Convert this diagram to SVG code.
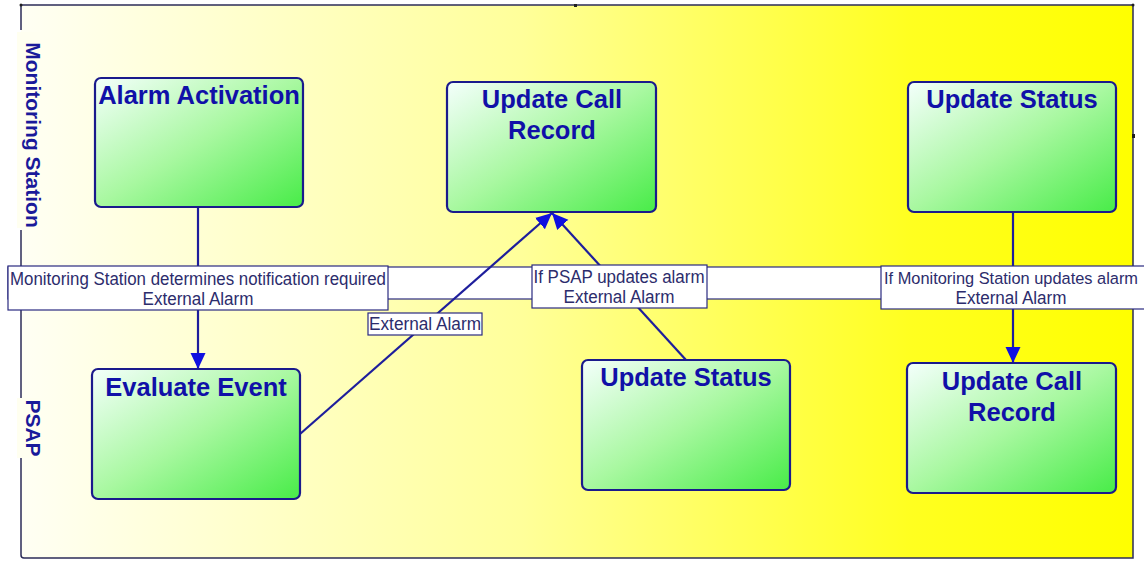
<svg xmlns="http://www.w3.org/2000/svg" width="1144" height="561" viewBox="0 0 1144 561">
  <defs>
    <linearGradient id="laneBg" x1="0" y1="0" x2="1" y2="0">
      <stop offset="0" stop-color="#fffff4"/>
      <stop offset="0.45" stop-color="#ffff9a"/>
      <stop offset="0.8" stop-color="#ffff20"/>
      <stop offset="1" stop-color="#ffff00"/>
    </linearGradient>
    <linearGradient id="nodeFill" x1="0" y1="0" x2="1" y2="1">
      <stop offset="0" stop-color="#f4fffc"/>
      <stop offset="0.5" stop-color="#a8f8a0"/>
      <stop offset="1" stop-color="#48ec48"/>
    </linearGradient>
    <marker id="arrow" markerUnits="userSpaceOnUse" markerWidth="18" markerHeight="18" refX="16" refY="7.5" orient="auto">
      <path d="M0,0 L16,7.5 L0,15 Z" fill="#1010e0"/>
    </marker>
    <style>
      .frame { fill: none; stroke: #2c2c58; stroke-width: 1.5; }
      .node rect { fill: url(#nodeFill); stroke: #1a1a8c; stroke-width: 2.2; }
      .node text { font-family: "Liberation Sans", Arial, sans-serif; font-weight: bold; font-size: 25.5px; fill: #1010a8; text-anchor: middle; }
      .lane { font-family: "Liberation Sans", Arial, sans-serif; font-weight: bold; font-size: 21px; fill: #1a1a9a; text-anchor: middle; }
      .lane-bg { fill: #fffff0; }
      .conn { fill: none; stroke: #1e1e9c; stroke-width: 2.2; marker-end: url(#arrow); }
      .lbl rect { fill: #ffffff; stroke: #2a2a80; stroke-width: 1.2; }
      .lbl text { font-family: "Liberation Sans", Arial, sans-serif; font-size: 17.5px; fill: #2c2c6c; text-anchor: middle; }
      .lbl text.fit { font-size: 16.8px; }
    </style>
  </defs>

  <!-- swimlane pool -->
  <g id="pool">
    <rect x="21" y="5" width="1112" height="553" rx="3" fill="url(#laneBg)"/>
    <path class="frame" d="M21,30 V5 H1133 V558 H24 Q21,558 21,555 V458"/>
    <path class="frame" d="M21,230 V400"/>
    <circle cx="21" cy="5" r="1.5" fill="#202020"/>
    <circle cx="1133" cy="5" r="1.5" fill="#202020"/>
    <rect x="1132" y="134" width="3" height="4" fill="#202020"/>
    <rect x="574" y="4" width="3" height="3" fill="#202020"/>
  </g>

  <!-- lane titles -->
  <g id="lane-monitoring">
    <rect class="lane-bg" x="17" y="32" width="26" height="196"/>
    <text class="lane" transform="translate(26,135) rotate(90)">Monitoring Station</text>
  </g>
  <g id="lane-psap">
    <rect class="lane-bg" x="17" y="398" width="26" height="60"/>
    <text class="lane" transform="translate(26,428) rotate(90)">PSAP</text>
  </g>

  <!-- lane divider band -->
  <rect id="divider" x="8" y="267" width="1140" height="32" fill="#ffffff" stroke="#2a2a80" stroke-width="1.2"/>

  <!-- connectors -->
  <g id="connectors">
    <path class="conn" d="M198,207 V369"/>
    <path class="conn" d="M300,434 L552,213"/>
    <path class="conn" d="M686,360 L552,213"/>
    <path class="conn" d="M1013,212 V363"/>
  </g>

  <!-- connector labels -->
  <g id="labels">
    <g class="lbl" id="lbl-notify">
      <rect x="8" y="266" width="380" height="44"/>
      <text x="198" y="285" textLength="376" lengthAdjust="spacingAndGlyphs">Monitoring Station determines notification required</text>
      <text x="198" y="305" textLength="111" lengthAdjust="spacingAndGlyphs">External Alarm</text>
    </g>
    <g class="lbl" id="lbl-external">
      <rect x="368" y="313" width="114" height="22"/>
      <text x="425" y="330" textLength="112" lengthAdjust="spacingAndGlyphs">External Alarm</text>
    </g>
    <g class="lbl" id="lbl-psap">
      <rect x="532" y="265" width="175" height="43"/>
      <text x="619" y="283" textLength="171" lengthAdjust="spacingAndGlyphs">If PSAP updates alarm</text>
      <text x="619" y="303" textLength="111" lengthAdjust="spacingAndGlyphs">External Alarm</text>
    </g>
    <g class="lbl" id="lbl-ms">
      <rect x="881" y="266" width="270" height="43"/>
      <text class="fit" x="1011" y="284" textLength="254" lengthAdjust="spacingAndGlyphs">If Monitoring Station updates alarm</text>
      <text x="1011" y="304" textLength="111" lengthAdjust="spacingAndGlyphs">External Alarm</text>
    </g>
  </g>

  <!-- activity nodes -->
  <g class="node" id="alarm-activation">
    <rect x="95" y="78" width="208" height="129" rx="6"/>
    <text x="199" y="104">Alarm Activation</text>
  </g>
  <g class="node" id="update-call-record-ms">
    <rect x="447" y="82" width="209" height="130" rx="6"/>
    <text x="552" y="108">Update Call</text>
    <text x="552" y="139">Record</text>
  </g>
  <g class="node" id="update-status-ms">
    <rect x="908" y="82" width="208" height="130" rx="6"/>
    <text x="1012" y="108">Update Status</text>
  </g>
  <g class="node" id="evaluate-event">
    <rect x="92" y="369" width="208" height="130" rx="6"/>
    <text x="196" y="396">Evaluate Event</text>
  </g>
  <g class="node" id="update-status-psap">
    <rect x="582" y="360" width="208" height="130" rx="6"/>
    <text x="686" y="386">Update Status</text>
  </g>
  <g class="node" id="update-call-record-psap">
    <rect x="907" y="363" width="209" height="130" rx="6"/>
    <text x="1012" y="390">Update Call</text>
    <text x="1012" y="421">Record</text>
  </g>
</svg>
